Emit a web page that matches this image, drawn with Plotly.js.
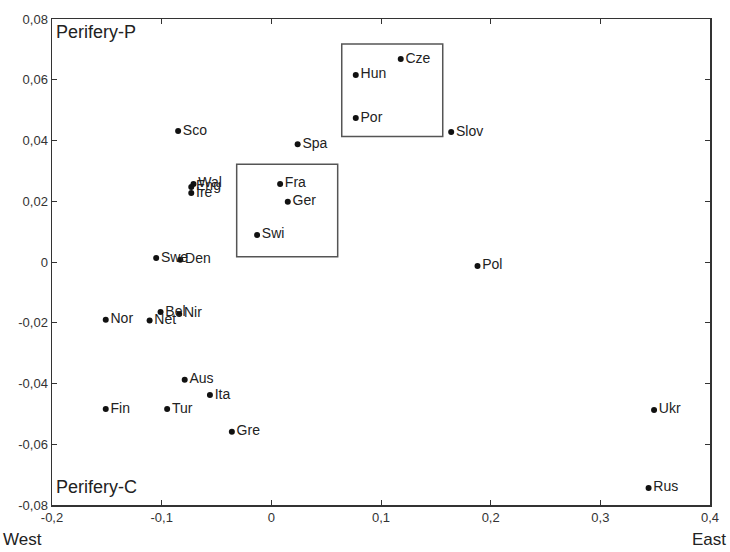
<!DOCTYPE html>
<html>
<head>
<meta charset="utf-8">
<script src="https://cdn.plot.ly/plotly-3.0.1.min.js"></script>
<style>html,body{margin:0;padding:0;background:#fff;}#chart{width:730px;height:552px;}</style>
</head>
<body>
<div id="chart"></div>
<script>
const countries = ["Cze","Hun","Por","Slov","Spa","Fra","Ger","Swi","Pol","Sco","Wal","Eng","Ire","Swe","Den","Bel","Nir","Net","Nor","Aus","Ita","Fin","Tur","Gre","Ukr","Rus"];
const westEast = [0.118,0.077,0.077,0.164,0.024,0.008,0.015,-0.013,0.188,-0.085,-0.071,-0.073,-0.073,-0.105,-0.083,-0.101,-0.084,-0.111,-0.151,-0.079,-0.056,-0.151,-0.095,-0.036,0.349,0.344];
const periphery = [0.0668,0.0616,0.0474,0.0428,0.0388,0.0257,0.0198,0.0089,-0.0013,0.0431,0.0257,0.0247,0.0227,0.0013,0.0007,-0.0165,-0.0171,-0.0193,-0.019,-0.0388,-0.0438,-0.0484,-0.0484,-0.0559,-0.0487,-0.0744];
const xTickVals = [-0.2,-0.1,0,0.1,0.2,0.3,0.4];
const xTickText = ["-0,2","-0,1","0","0,1","0,2","0,3","0,4"];
const yTickVals = [-0.08,-0.06,-0.04,-0.02,0,0.02,0.04,0.06,0.08];
const yTickText = ["-0,08","-0,06","-0,04","-0,02","0","0,02","0,04","0,06","0,08"];

const frameColor = "#333";
const trace = {
  x: westEast, y: periphery, text: countries,
  type: "scatter", mode: "markers+text",
  textposition: "middle right",
  marker: {color: "#111", size: 6},
  textfont: {family: "Liberation Sans, Arial, sans-serif", size: 14, color: "#222"},
  cliponaxis: false, hoverinfo: "skip"
};
const layout = {
  width: 730, height: 552,
  margin: {l: 52, r: 20, t: 19, b: 47},
  paper_bgcolor: "#fff", plot_bgcolor: "#fff",
  showlegend: false,
  font: {family: "Liberation Sans, Arial, sans-serif", size: 13, color: "#333"},
  xaxis: {range: [-0.2, 0.4], tickvals: xTickVals, ticktext: xTickText,
    ticks: "inside", ticklen: 5, tickcolor: frameColor, tickwidth: 1,
    showline: true, linecolor: frameColor, linewidth: 1.5, mirror: "ticks",
    showgrid: false, zeroline: false, fixedrange: true},
  yaxis: {range: [-0.08, 0.08], tickvals: yTickVals, ticktext: yTickText,
    ticks: "inside", ticklen: 5, tickcolor: frameColor, tickwidth: 1,
    showline: true, linecolor: frameColor, linewidth: 1.5, mirror: "ticks",
    showgrid: false, zeroline: false, fixedrange: true},
  shapes: [
    {type: "rect", xref: "x", yref: "y", x0: 0.0642, x1: 0.1563, y0: 0.0413, y1: 0.0718, line: {color: "#555", width: 1.5}},
    {type: "rect", xref: "x", yref: "y", x0: -0.0316, x1: 0.0605, y0: 0.0017, y1: 0.0322, line: {color: "#555", width: 1.5}}
  ],
  annotations: [
    {text: "Perifery-P", xref: "paper", yref: "paper", x: 0.003, y: 0.998, xanchor: "left", yanchor: "top", showarrow: false, font: {size: 18, color: "#222"}},
    {text: "Perifery-C", xref: "paper", yref: "paper", x: 0.003, y: 0.012, xanchor: "left", yanchor: "bottom", showarrow: false, font: {size: 18, color: "#222"}},
    {text: "West", xref: "paper", yref: "paper", x: -0.077, y: -0.094, xanchor: "left", yanchor: "bottom", showarrow: false, font: {size: 17, color: "#222"}},
    {text: "East", xref: "paper", yref: "paper", x: 1.028, y: -0.094, xanchor: "right", yanchor: "bottom", showarrow: false, font: {size: 17, color: "#222"}}
  ]
};
Plotly.newPlot("chart", [trace], layout, {displayModeBar: false, staticPlot: true});
</script>
</body>
</html>
